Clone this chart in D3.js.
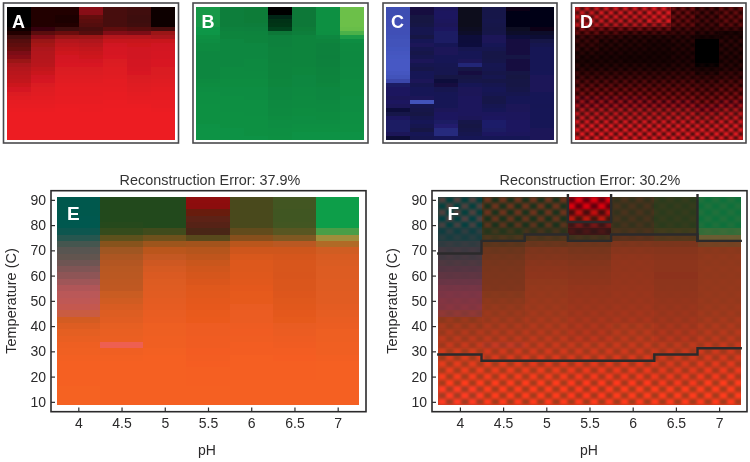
<!DOCTYPE html>
<html><head><meta charset="utf-8">
<script src="https://cdn.jsdelivr.net/npm/d3@7"></script>
<style>html,body{margin:0;padding:0;background:#fff}svg{display:block}text{font-family:"Liberation Sans",Arial,sans-serif}</style>
</head><body><div id="c"></div>
<script>
const pHValues=[4,4.5,5,5.5,6,6.5,7];
const tempValues=[90,87.5,85,82.5,80,77.5,75,72.5,70,67.5,65,62.5,60,57.5,55,52.5,50,47.5,45,42.5,40,37.5,35,32.5,30,27.5,25,22.5,20,17.5,15,12.5,10];
const pHTicks=[4,4.5,5,5.5,6,6.5,7];
const tempTicks=[10,20,30,40,50,60,70,80,90];
const titles=["Reconstruction Error: 37.9%","Reconstruction Error: 30.2%"];
// factor loadings, one list per pH, rows from 90 C down to 10 C
const redFactor=[
[0,0,0,0,0,.05,.15,.28,.36,.4,.45,.52,.58,.65,.72,.76,.78,.8,.82,.86,.9,.93,.95,.97,.98,.99,1,1,1,1,1,1,1],
[.14,.14,.14,.14,.15,.22,.38,.55,.65,.7,.73,.75,.76,.77,.78,.82,.85,.88,.9,.92,.94,.95,.96,.97,.98,.99,1,1,1,1,1,1,1],
[.14,.14,.13,.13,.14,.26,.45,.64,.76,.8,.84,.87,.89,.9,.91,.92,.93,.94,.95,.96,.97,.97,.98,.98,.99,1,1,1,1,1,1,1,1],
[.58,.57,.42,.38,.35,.3,.36,.66,.74,.78,.82,.85,.87,.89,.91,.92,.93,.94,.95,.96,.97,.97,.98,.98,.99,.99,1,1,1,1,1,1,1],
[.3,.3,.3,.3,.3,.4,.55,.76,.84,.88,.9,.9,.91,.92,.93,.94,.94,.95,.96,.96,.97,.98,.98,.99,.99,1,1,1,1,1,1,1,1],
[.27,.27,.26,.26,.27,.36,.52,.76,.84,.87,.88,.88,.88,.89,.89,.9,.91,.92,.93,.94,.95,.96,.97,.98,.99,1,1,1,1,1,1,1,1],
[.05,.05,.05,.05,.05,.3,.65,.72,.85,.88,.89,.9,.9,.91,.91,.92,.92,.93,.94,.95,.96,.97,.97,.98,.98,.99,1,1,1,1,1,1,1]];
const greenFactor=[
[1.05,1.05,1.05,1.05,1.05,1.02,1,.96,.94,.92,.92,.9,.9,.9,.9,.9,.9,.9,.92,.93,.94,.95,.95,.95,.96,.96,.96,.96,.96,.97,.98,.98,.98],
[.84,.84,.84,.84,.84,.86,.88,.88,.9,.9,.9,.9,.9,.9,.9,.92,.92,.92,.93,.93,.94,.94,.95,.95,.95,.95,.96,.96,.96,.96,.97,.97,.97],
[.82,.82,.82,.82,.83,.85,.87,.88,.88,.9,.9,.9,.9,.91,.91,.91,.92,.92,.93,.93,.94,.94,.94,.95,.95,.95,.95,.96,.96,.96,.96,.96,.97],
[0,0,.26,.32,.35,.42,.8,.86,.86,.86,.87,.87,.87,.87,.88,.88,.88,.88,.89,.89,.9,.9,.9,.91,.91,.92,.92,.93,.94,.94,.95,.95,.96],
[.8,.8,.8,.8,.8,.82,.84,.88,.88,.88,.88,.88,.88,.88,.88,.89,.89,.9,.9,.9,.91,.91,.92,.92,.92,.93,.93,.94,.94,.95,.96,.97,.97],
[.96,.96,.96,.96,.96,.96,.95,.9,.88,.86,.86,.86,.85,.86,.86,.87,.87,.88,.88,.89,.9,.9,.9,.91,.92,.92,.93,.93,.94,.95,.96,.97,.97],
[1.85,1.85,1.85,1.85,1.85,1.8,1.55,1.12,.94,.92,.92,.91,.91,.91,.91,.92,.92,.92,.93,.93,.93,.93,.94,.94,.94,.94,.95,.95,.95,.96,.96,.97,.97]];
const blueFactor=[
[.76,.76,.76,.77,.77,.78,.78,.79,.8,.8,.82,.83,.84,.85,.85,.85,.83,.8,.72,.38,.36,.36,.34,.36,.34,.22,.28,.36,.38,.38,.38,.34,.2],
[.24,.24,.25,.25,.26,.3,.3,.26,.32,.34,.3,.28,.3,.34,.3,.28,.32,.32,.34,.3,.33,.33,.34,.8,.3,.28,.26,.3,.33,.3,.26,.32,.3],
[.35,.36,.36,.35,.34,.36,.38,.38,.38,.32,.34,.34,.32,.32,.31,.3,.3,.26,.22,.24,.3,.32,.32,.32,.32,.34,.36,.36,.38,.42,.5,.5,.32],
[.1,.1,.1,.1,.11,.12,.16,.22,.22,.23,.3,.32,.32,.34,.47,.26,.24,.26,.28,.32,.34,.34,.35,.35,.35,.35,.35,.34,.28,.26,.28,.3,.32],
[.28,.28,.28,.29,.28,.27,.28,.34,.34,.32,.3,.27,.27,.28,.31,.3,.28,.3,.27,.3,.32,.31,.28,.28,.31,.33,.35,.36,.4,.4,.38,.36,.32],
[.09,.08,.08,.08,.08,.12,.16,.22,.24,.24,.24,.24,.26,.24,.24,.24,.26,.25,.26,.26,.28,.3,.32,.33,.34,.34,.35,.35,.36,.36,.36,.35,.32],
[.07,.07,.07,.07,.07,.09,.16,.2,.27,.3,.32,.32,.32,.32,.32,.32,.33,.34,.34,.34,.34,.33,.33,.33,.32,.33,.33,.33,.33,.33,.34,.34,.34]];
const checkFactor=[
[.9,.9,.9,.9,.85,.6,.45,.3,.28,.26,.24,.2,.16,.14,.18,.22,.26,.32,.38,.44,.5,.56,.62,.68,.74,.8,.85,.9,.95,1,1,1,1],
[.95,.95,.95,.9,.85,.55,.4,.25,.22,.2,.18,.16,.14,.14,.18,.22,.26,.32,.38,.44,.5,.56,.62,.68,.74,.8,.85,.9,.95,1,1,1,1],
[.95,.95,.95,.9,.85,.55,.35,.22,.2,.18,.16,.14,.12,.12,.18,.22,.26,.32,.38,.44,.5,.56,.62,.68,.74,.8,.85,.9,.95,1,1,1,1],
[1.15,1.15,1.15,1.15,.8,.5,.35,.2,.16,.14,.14,.12,.12,.12,.16,.2,.25,.3,.36,.42,.48,.54,.6,.66,.72,.78,.84,.9,.95,1,1,1,1],
[.5,.5,.5,.48,.45,.35,.28,.22,.2,.18,.18,.16,.16,.16,.18,.22,.26,.3,.36,.42,.48,.54,.6,.66,.72,.78,.84,.9,.94,1,1,1,1],
[.35,.35,.35,.35,.32,.28,.22,.12,0,0,0,0,0,0,.08,.14,.2,.26,.32,.38,.44,.5,.56,.6,.66,.72,.78,.84,.9,.95,1,1,1],
[.45,.45,.45,.45,.42,.3,.14,.18,.22,.22,.2,.2,.18,.18,.2,.22,.26,.3,.36,.42,.48,.54,.6,.66,.72,.78,.84,.9,.94,1,1,1,1]];
// stepped cluster boundaries in panel F (temperature per pH)
const upperBoundary=[68.75,73.75,76.25,73.75,76.25,76.25,73.75];
const lowerBoundary=[28.75,26.25,26.25,26.25,26.25,28.75,31.25];
const boxTop=91.25, boxBottom=81.25, boxPH=5.5, dividerPH=7;

const W=750,H=462,ink="#2b2a2b";
const svg=d3.select("#c").append("svg").attr("width",W).attr("height",H);
const defs=svg.append("defs");
defs.append("filter").attr("id","soft").attr("x","-2%").attr("y","-2%").attr("width","104%").attr("height","104%")
  .append("feGaussianBlur").attr("stdDeviation",.55);
const clamp=v=>Math.max(0,Math.min(255,v));
const redScale=d3.scaleLinear().domain([0,1]).range(["#000","#ed1c24"]).clamp(true);
const greenScale=d3.scaleLinear().domain([0,1,1.85]).range(["#000","#0f9646","#6cc04a"]).clamp(true);
const blueScale=d3.scaleLinear().domain([0,.4,.85,1]).range(["#000","#1e1c69","#4659c4","#4a5fd0"]).clamp(true);
const cellsOf=m=>m.flatMap((col,i)=>col.map((v,j)=>({i,j,v})));

function scales(x0,x1,y0,y1){
  return {bx:d3.scaleBand().domain(d3.range(pHValues.length)).range([x0,x1]),
          by:d3.scaleBand().domain(d3.range(tempValues.length)).range([y0,y1])};
}
function drawCells(g,s,cells,color){
  g.selectAll("rect").data(cells).join("rect")
   .attr("x",d=>s.bx(d.i)).attr("y",d=>s.by(d.j))
   .attr("width",s.bx.bandwidth()).attr("height",s.by.bandwidth())
   .attr("shape-rendering","crispEdges")
   .attr("fill",color);
}
function checkerMask(id,x0,y0,px,rowH,blur,x1,y1){
  defs.append("filter").attr("id",id+"b").append("feGaussianBlur").attr("stdDeviation",blur);
  const p=defs.append("pattern").attr("id",id+"p").attr("patternUnits","userSpaceOnUse")
    .attr("x",x0).attr("y",y0).attr("width",2*px).attr("height",2*rowH);
  p.append("rect").attr("width",px).attr("height",rowH).attr("fill","#fff");
  p.append("rect").attr("x",px).attr("y",rowH).attr("width",px).attr("height",rowH).attr("fill","#fff");
  defs.append("mask").attr("id",id).attr("maskUnits","userSpaceOnUse")
    .attr("x",x0-10).attr("y",y0-10).attr("width",x1-x0+20).attr("height",y1-y0+20)
    .append("rect").attr("x",x0-6).attr("y",y0-6).attr("width",x1-x0+12).attr("height",y1-y0+12)
    .attr("fill",`url(#${id}p)`).attr("filter",`url(#${id}b)`);
}
function frame(x,y,w,h,sw,col){
  svg.append("rect").attr("x",x).attr("y",y).attr("width",w).attr("height",h)
    .attr("fill","none").attr("stroke",col).attr("stroke-width",sw);
}
function letter(t,x,y,size){
  svg.append("text").text(t).attr("x",x).attr("y",y).attr("fill","#fff")
    .attr("font-weight","bold").attr("font-size",size);
}

// small factor panels
const small=[
 {l:"A",fx:3.5,fw:175,ix0:6.7,ix1:175,m:redFactor,c:redScale,lx:12},
 {l:"B",fx:193,fw:175,ix0:196,ix1:364.3,m:greenFactor,c:greenScale,lx:201.5},
 {l:"C",fx:383,fw:174,ix0:385.7,ix1:554,m:blueFactor,c:blueScale,lx:391},
 {l:"D",fx:571.5,fw:174.5,ix0:575,ix1:743.3,m:checkFactor,c:redScale,lx:580,check:true}];
small.forEach(p=>{
  const s=scales(p.ix0,p.ix1,6.7,140);
  if(p.check){
    const under=svg.append("g").attr("filter","url(#soft)");
    drawCells(under,s,cellsOf(p.m),d=>p.c(d.v*.3));
  }
  const g=svg.append("g").attr("filter",p.check?null:"url(#soft)");
  if(p.check){
    checkerMask("maskD",p.ix0,6.7,4.8,s.by.bandwidth(),.8,p.ix1,140);
    g.attr("mask","url(#maskD)");
  }
  drawCells(g,s,cellsOf(p.m),d=>p.c(d.v));
  frame(p.fx,3,p.fw,140,1.6,"#4a4a4d");
  letter(p.l,p.lx,28,18);
});

// large reconstruction panels
function combine(i,j){return {a:redFactor[i][j],b:greenFactor[i][j],c:blueFactor[i][j],d:checkFactor[i][j]};}
const colorE=(i,j)=>{const {a,b,c}=combine(i,j);
  return d3.rgb(clamp(245*a),clamp(85*b+15*a),clamp(10+24*Math.min(1,b)+160*Math.max(0,c-.5)+45*Math.max(0,b-1)));};
const colorF=(i,j)=>{const {a,b,c}=combine(i,j);
  return d3.rgb(clamp(160*a),clamp(60*b),clamp(10+22*Math.min(1,b)+110*Math.max(0,c-.5)*Math.min(1,(1-a)*5)+30*Math.max(0,b-1)));};
const large=[
 {l:"E",t:titles[0],fx:51,fw:315,ix0:56.7,ix1:359.3,col:colorE,lx:67,tx:210,tyx:12,pa:207},
 {l:"F",t:titles[1],fx:432,fw:315,ix0:438.3,ix1:740.7,col:colorF,lx:447.5,tx:590,tyx:393,pa:589,check:true}];
large.forEach(p=>{
  const y0=196.7,y1=405;
  const s=scales(p.ix0,p.ix1,y0,y1);
  const cells=pHValues.flatMap((_,i)=>tempValues.map((_,j)=>({i,j})));
  drawCells(svg.append("g").attr("filter","url(#soft)"),s,cells,d=>p.col(d.i,d.j));
  if(p.check){
    checkerMask("maskF",p.ix0,y0,7.6,s.by.bandwidth(),1.6,p.ix1,y1);
    const dl=svg.append("g").attr("mask","url(#maskF)").style("mix-blend-mode","plus-lighter");
    drawCells(dl,s,cells,d=>{const v=combine(d.i,d.j).d;return d3.rgb(clamp(100*v*v),0,0);});
  }
  const x=d3.scaleLinear().domain([3.75,7.25]).range([p.ix0,p.ix1]);
  const y=d3.scaleLinear().domain([8.75,91.25]).range([y1,y0]);
  if(p.check){
    const stepLine=d3.line().x(d=>x(d[0])).y(d=>y(d[1])).curve(d3.curveLinear);
    const steps=arr=>arr.flatMap((t,i)=>[[pHValues[i]-.25,t],[pHValues[i]+.25,t]]);
    const lg=svg.append("g").attr("fill","none").attr("stroke",ink).attr("stroke-width",2.4).attr("stroke-linecap","square");
    lg.append("path").attr("d",stepLine(steps(upperBoundary)));
    lg.append("path").attr("d",stepLine(steps(lowerBoundary)));
    lg.append("path").attr("d",stepLine([[boxPH-.25,boxTop+.6],[boxPH-.25,boxBottom],[boxPH+.25,boxBottom],[boxPH+.25,boxTop+.6]]));
    lg.append("path").attr("d",stepLine([[dividerPH-.25,boxTop+.6],[dividerPH-.25,upperBoundary[6]]]));
  }
  frame(p.fx,190.7,p.fw,221,1.6,ink);
  const ax=svg.append("g").attr("transform",`translate(0,411.5)`)
    .call(d3.axisBottom(x).tickValues(pHTicks).tickFormat(d3.format("~g")).tickSize(-4).tickPadding(7));
  const ay=svg.append("g").attr("transform",`translate(${p.fx},0)`)
    .call(d3.axisLeft(y).tickValues(tempTicks).tickSize(-4).tickPadding(5));
  [ax,ay].forEach(a=>{a.select(".domain").remove();
    a.selectAll("line").attr("stroke",ink).attr("stroke-width",1.2);
    a.selectAll("text").attr("fill",ink).attr("font-size",14).attr("font-family","Liberation Sans");});
  svg.append("text").text(p.t).attr("x",p.tx).attr("y",185).attr("text-anchor","middle").attr("fill","#333").attr("font-size",14.4);
  svg.append("text").text("pH").attr("x",p.pa).attr("y",455).attr("text-anchor","middle").attr("fill",ink).attr("font-size",14);
  svg.append("text").text("Temperature (C)").attr("transform",`translate(${p.tyx+4},301) rotate(-90)`).attr("text-anchor","middle").attr("fill",ink).attr("font-size",14.5);
  letter(p.l,p.lx,220,19);
});
</script></body></html>
